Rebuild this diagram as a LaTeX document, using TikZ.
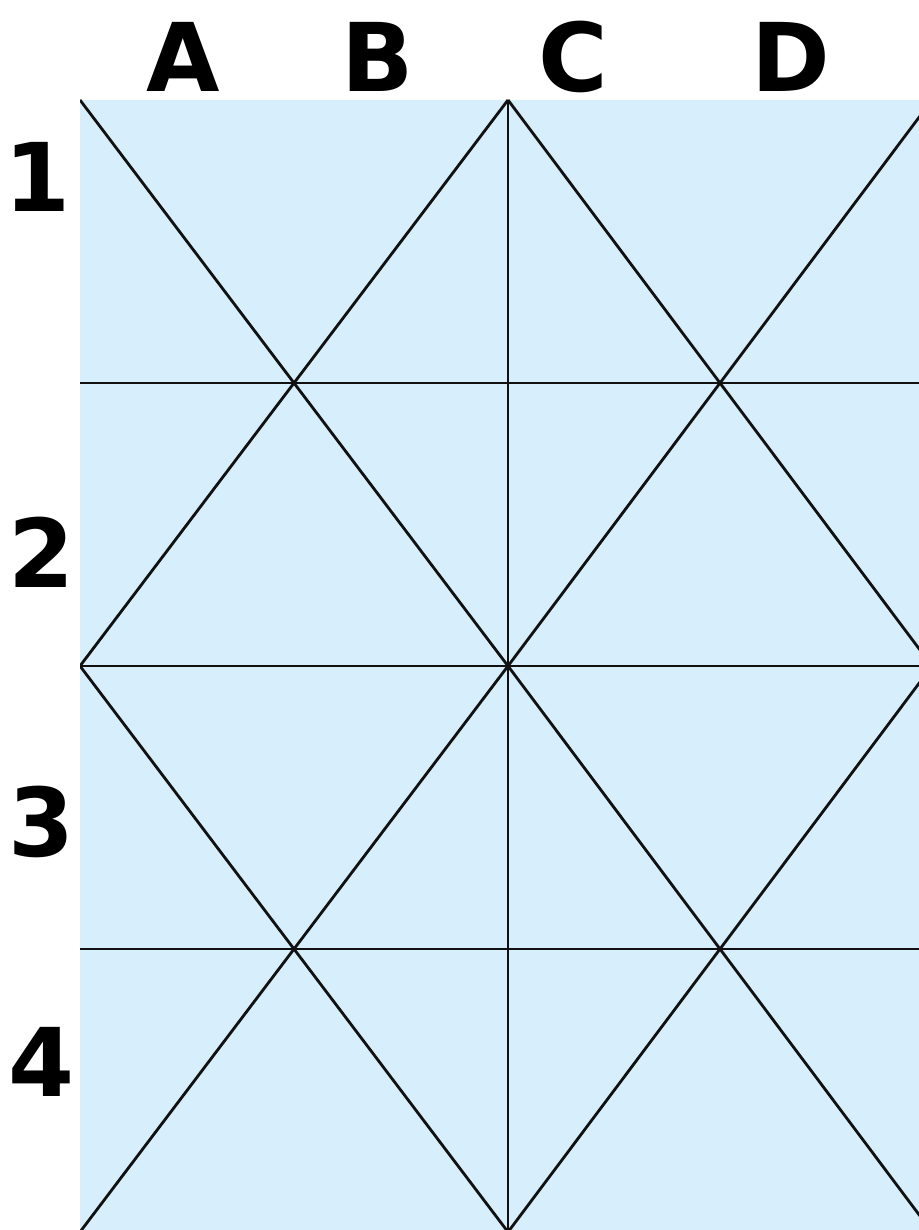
\documentclass[tikz,border=0pt]{standalone}
\usepackage{fontspec}
\setsansfont{DejaVu Sans}
\usetikzlibrary{positioning}
\definecolor{ink}{HTML}{111111}
\definecolor{sky}{HTML}{D7EEFC}

\begin{document}
\begin{tikzpicture}[x=0.02cm, y=-0.02cm,
      lbl/.style={font=\sffamily\bfseries\fontsize{54}{54}\selectfont, inner sep=0pt, text=black},
      gridline/.style={ink, line width=1.6pt}]
    \useasboundingbox (0,0) rectangle (919,1230);
    \fill[sky] (80,100) rectangle (919,1230);
    \begin{scope}
      \clip (80,100) rectangle (919,1230);
      \draw[gridline] (80,383)--(919,383);\draw[gridline] (80,666)--(919,666);\draw[gridline] (80,949)--(919,949);
      \draw[gridline] (508,100)--(508,1232);
      \draw[gridline] (80,100)--(508,666)--(80,1232);
      \draw[gridline] (508,100)--(80,666)--(508,1232);
      \draw[gridline] (508,100)--(932,666)--(508,1232);
      \draw[gridline] (932,100)--(508,666)--(932,1232);
    \end{scope}
    \node[lbl] (colA) at (183,57) {A};
    \node[lbl] (colB) at (378,57) {B};
    \node[lbl] (colC) at (573,57) {C};
    \node[lbl] (colD) at (791,57) {D};
    \node[lbl] (row1) at (38,177) {1};
    \node[lbl] (row2) at (42,552) {2};
    \node[lbl] (row3) at (42,822) {3};
    \node[lbl] (row4) at (42,1062) {4};
  \end{tikzpicture}
\end{document}
